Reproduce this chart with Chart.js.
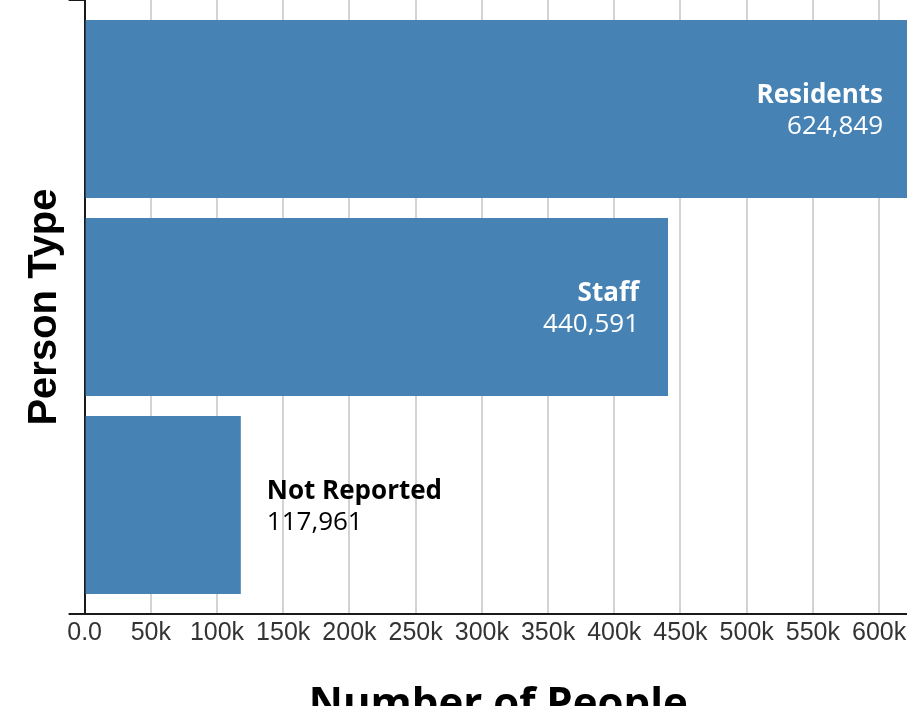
<!DOCTYPE html>
<html><head><meta charset="utf-8">
<script src="https://cdn.jsdelivr.net/npm/chart.js@4/dist/chart.umd.min.js"></script>
<style>
html,body{margin:0;padding:0;overflow:hidden;background:#fff}
canvas{display:block}
</style>
</head><body><canvas id="c" width="912" height="729" style="width:912px;height:729px"></canvas>
<script>
const categories = ['Residents', 'Staff', 'Not Reported'];
const peopleCounts = [624849, 440591, 117961];
const xTickStep = 50000;
const xTickLabels = ['0.0', '50k', '100k', '150k', '200k', '250k', '300k', '350k', '400k', '450k', '500k', '550k', '600k'];
const bandPad = 0.0505;

const barLabels = {
  id: 'barLabels',
  afterDatasetsDraw(chart) {
    const ctx = chart.ctx;
    const meta = chart.getDatasetMeta(0);
    meta.data.forEach((bar, i) => {
      const name = categories[i];
      const val = peopleCounts[i].toLocaleString('en-US');
      ctx.save();
      ctx.font = 'bold 26px "Open Sans"';
      const wName = ctx.measureText(name).width;
      const inside = (bar.x - bar.base) > wName + 60;
      let x, align, color;
      if (inside) { x = bar.x - 29; align = 'right'; color = '#ffffff'; }
      else { x = bar.x + 26; align = 'left'; color = '#000000'; }
      ctx.textAlign = align;
      ctx.textBaseline = 'alphabetic';
      ctx.fillStyle = color;
      ctx.fillText(name, x, bar.y - 6);
      ctx.font = '26px "Open Sans"';
      ctx.fillText(val, x, bar.y + 25);
      ctx.restore();
    });
  }
};

new Chart(document.getElementById('c'), {
  type: 'bar',
  data: {
    datasets: [{
      data: peopleCounts.map((v, i) => ({ x: v, y: i })),
      backgroundColor: '#4682b4',
      borderWidth: 0,
      barPercentage: 0.9,
      categoryPercentage: 1.0
    }]
  },
  options: {
    indexAxis: 'y',
    responsive: false,
    maintainAspectRatio: false,
    devicePixelRatio: 1,
    animation: false,
    layout: { padding: 0 },
    plugins: { legend: { display: false }, tooltip: { enabled: false } },
    scales: {
      x: {
        type: 'linear',
        bounds: 'data',
        min: 0,
        max: Math.max(...peopleCounts),
        afterBuildTicks: (scale) => { scale.ticks = xTickLabels.map((_, i) => ({ value: i * xTickStep })); },
        border: { display: true, color: '#1a1a1a', width: 2 },
        grid: { color: '#d3d3d3', lineWidth: 2, drawTicks: false },
        ticks: {
          autoSkip: false,
          maxRotation: 0,
          padding: 4,
          color: '#333333',
          font: { family: '"Liberation Sans", Arial, sans-serif', size: 25 },
          callback: (v, i) => xTickLabels[i]
        },
        title: {
          display: true,
          text: 'Number of People',
          color: '#000000',
          font: { family: '"Open Sans", sans-serif', size: 42, weight: 'bold', lineHeight: 48 / 42 },
          padding: { top: 29, bottom: 0 }
        }
      },
      y: {
        type: 'linear',
        offset: false,
        bounds: 'data',
        reverse: true,
        min: -0.5 - bandPad,
        max: categories.length - 0.5 + bandPad,
        afterBuildTicks: (scale) => { scale.ticks = [{ value: scale.min }, { value: scale.max }]; },
        border: { display: true, color: '#1a1a1a', width: 2 },
        grid: { offset: false, drawOnChartArea: false, drawTicks: true, tickLength: 16, color: '#1a1a1a', lineWidth: 2 },
        ticks: { display: false },
        title: {
          display: true,
          text: 'Person Type',
          color: '#000000',
          font: { family: '"Liberation Sans", Arial, sans-serif', size: 40, weight: 'bold', lineHeight: 45.6 / 40 },
          padding: { top: 22, bottom: 1 }
        }
      }
    }
  },
  plugins: [barLabels]
});
</script>
</body></html>
